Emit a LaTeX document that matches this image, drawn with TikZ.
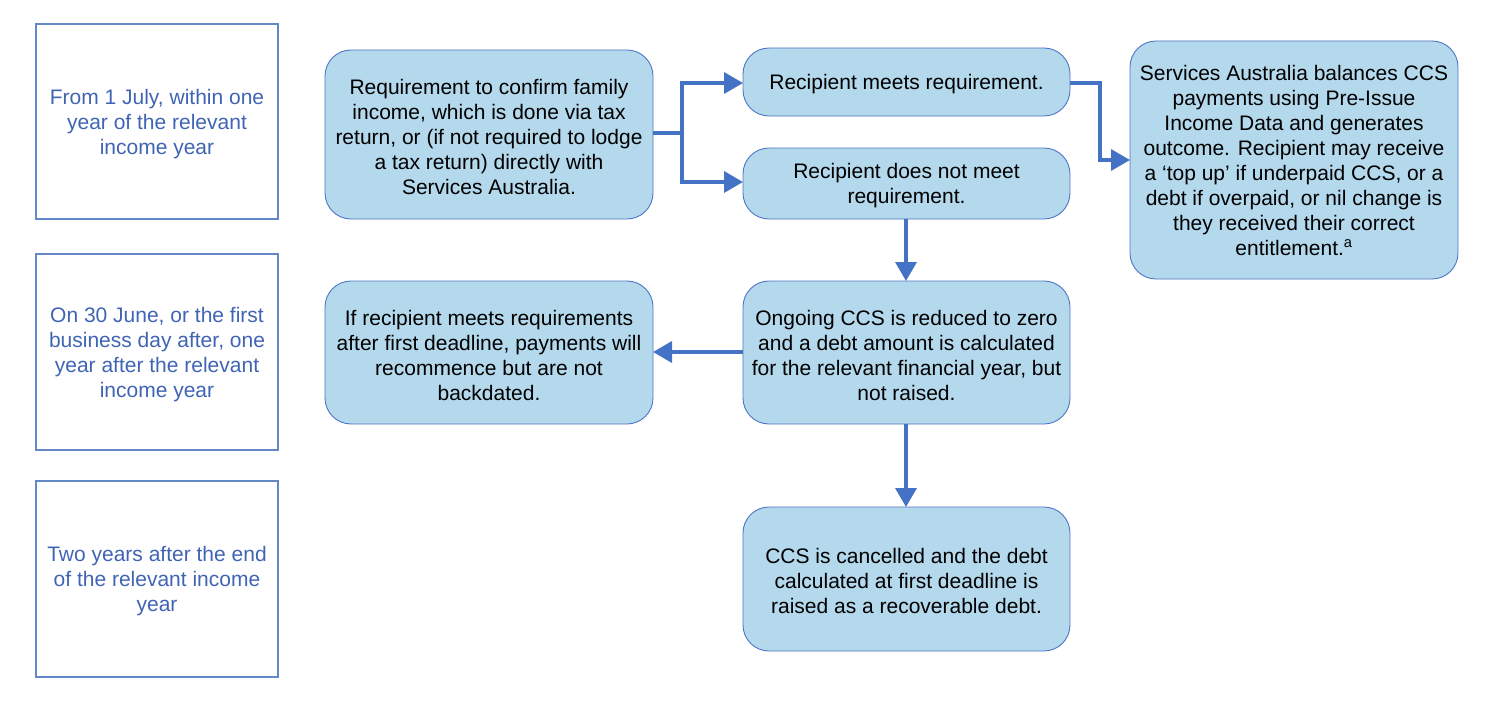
\documentclass[tikz,border=0pt]{standalone}
\usepackage{fontspec}
\setmainfont{Liberation Sans}
\usetikzlibrary{arrows.meta}
\definecolor{boxfill}{RGB}{180,216,236}
\definecolor{boxline}{RGB}{78,118,196}
\definecolor{arrowc}{RGB}{68,114,196}
\definecolor{lefttext}{RGB}{64,100,180}
\definecolor{leftline}{RGB}{100,135,200}
\begin{document}
\begin{tikzpicture}[x=1pt,y=-1pt,
  txt/.style={font=\fontsize{21}{25}\selectfont, align=center, inner sep=0pt, yshift=-2.5pt},
  flowbox/.style={draw=boxline, line width=0.9pt, fill=boxfill, rounded corners=26pt},
  timebox/.style={draw=leftline, line width=1.6pt, text=lefttext},
  conn/.style={draw=arrowc, line width=3.6pt, -{Triangle[width=21pt,length=19pt]}, line join=miter}]
\useasboundingbox (0,0) rectangle (1496,701);
% left time boxes
\draw[timebox] (36,24) rectangle (278,219);
\node[txt, text=lefttext] (t1) at (157,121.5) {From 1 July, within one\\year of the relevant\\income year};
\draw[timebox] (36,254) rectangle (278,450);
\node[txt, text=lefttext] (t2) at (157,352) {On 30 June, or the first\\business day after, one\\year after the relevant\\income year};
\draw[timebox] (36,481) rectangle (278,677);
\node[txt, text=lefttext] (t3) at (157,579) {Two years after the end\\of the relevant income\\year};
% flow boxes
\draw[flowbox] (325,50) rectangle (653,219);
\node[txt] (a) at (489,134.5) {Requirement to confirm family\\income, which is done via tax\\return, or (if not required to lodge\\a tax return) directly with\\Services Australia.};
\coordinate (aE) at (653,133);
\draw[flowbox] (743,48) rectangle (1070,116);
\node[txt] (b) at (906.5,82) {Recipient meets requirement.};
\coordinate (bW) at (743,83);
\coordinate (bE) at (1070,83);
\draw[flowbox] (743,148) rectangle (1070,219);
\node[txt] (c) at (906.5,183.5) {Recipient does not meet\\requirement.};
\coordinate (cW) at (743,182);
\coordinate (cS) at (906,219);
\draw[flowbox] (1130,41) rectangle (1458,279);
\node[txt] (d) at (1294,158) {Services Australia balances CCS\\payments using Pre-Issue\\Income Data and generates\\outcome. Recipient may receive\\a `top up' if underpaid CCS, or a\\debt if overpaid, or nil change is\\they received their correct\\entitlement.\textsuperscript{a}};
\coordinate (dW) at (1130,160);
\draw[flowbox] (325,281) rectangle (653,424);
\node[txt] (e) at (489,352.5) {If recipient meets requirements\\after first deadline, payments will\\recommence but are not\\backdated.};
\coordinate (eE) at (653,352);
\draw[flowbox] (743,281) rectangle (1070,424);
\node[txt] (f) at (906.5,352.5) {Ongoing CCS is reduced to zero\\and a debt amount is calculated\\for the relevant financial year, but\\not raised.};
\coordinate (fN) at (906,281);
\coordinate (fW) at (743,352);
\coordinate (fS) at (906,424);
\draw[flowbox] (743,507) rectangle (1070,651);
\node[txt] (g) at (906.5,578) {CCS is cancelled and the debt\\calculated at first deadline is\\raised as a recoverable debt.};
\coordinate (gN) at (906,507);
% connectors
\coordinate (split) at (682,133);
\coordinate (bend) at (1100,83);
\draw[draw=arrowc, line width=3.6pt] (aE) -- (split);
\draw[conn] (split) |- (bW);
\draw[conn] (split) |- (cW);
\draw[conn] (bE) -- (bend) |- (dW);
\draw[conn] (cS) -- (fN);
\draw[conn] (fW) -- (eE);
\draw[conn] (fS) -- (gN);
\end{tikzpicture}
\end{document}
